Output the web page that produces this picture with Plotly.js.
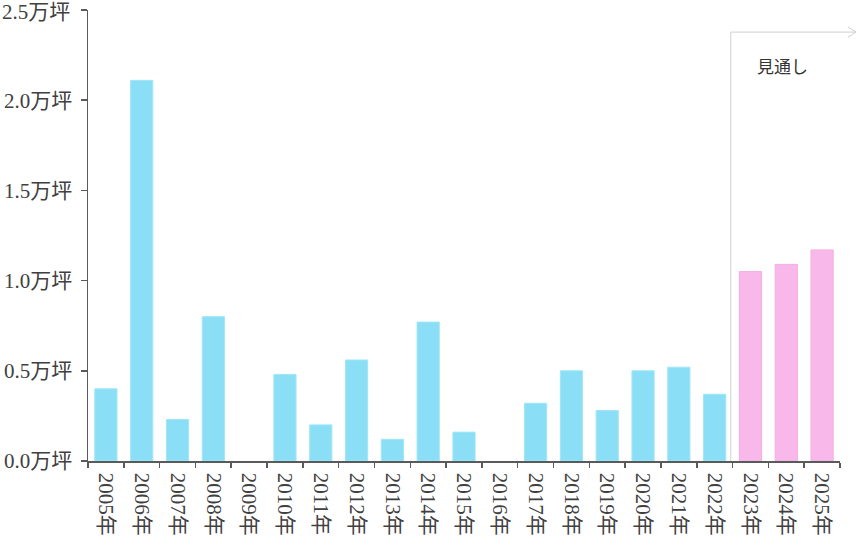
<!DOCTYPE html>
<html>
<head>
<meta charset="utf-8">
<script src="https://cdn.plot.ly/plotly-3.0.1.min.js"></script>
<style>html,body{margin:0;padding:0;background:#fff;}#chart{width:858px;height:538px;}</style>
</head>
<body>
<div id="chart"></div>
<script>
const years = ["2005年","2006年","2007年","2008年","2009年","2010年","2011年","2012年","2013年","2014年","2015年","2016年","2017年","2018年","2019年","2020年","2021年","2022年","2023年","2024年","2025年"];
const values = [0.40, 2.11, 0.23, 0.80, 0, 0.48, 0.20, 0.56, 0.12, 0.77, 0.16, 0, 0.32, 0.50, 0.28, 0.50, 0.52, 0.37, 1.05, 1.09, 1.17];
const forecastStart = "2023年";
const yTickVals = [0, 0.5, 1.0, 1.5, 2.0, 2.5];
const yTickText = ["0.0万坪","0.5万坪","1.0万坪","1.5万坪","2.0万坪","2.5万坪"];
const forecastLabel = "見通し";

const fIdx = years.indexOf(forecastStart);
const colors = years.map((y, i) => i >= fIdx ? "#f8b9ea" : "#8adff6");
const lineColors = years.map((y, i) => i >= fIdx ? "#f5aee3" : "#9fe6f8");
const lineWidths = values.map(v => v > 0 ? 1 : 0);

const trace = {
  type: "bar",
  x: years,
  y: values,
  marker: {color: colors, line: {color: lineColors, width: lineWidths}},
  hoverinfo: "x+y"
};

const tickFont = {family: "'Liberation Serif','Times New Roman','Noto Sans CJK JP',serif", size: 21, color: "#404040"};

const lineX = fIdx - 0.55;
const topIdx = yTickVals.length - 1;

const layout = {
  width: 858, height: 538,
  margin: {l: 88, r: 18, t: 10, b: 77},
  paper_bgcolor: "#fff", plot_bgcolor: "#fff",
  showlegend: false,
  bargap: 0.38,
  xaxis: {
    type: "category",
    tickangle: 90,
    showline: true, linecolor: "#5a5a5a", linewidth: 1.5,
    ticks: "outside", tickson: "boundaries", ticklen: 5, tickcolor: "#5a5a5a", tickwidth: 1.5,
    ticklabelstandoff: 6,
    tickfont: tickFont,
    showgrid: false, zeroline: false, automargin: false,
    range: [-0.5, years.length - 0.5]
  },
  yaxis: {
    range: [0, 2.5],
    tickvals: yTickVals,
    ticktext: yTickText.map((t, i) => i === topIdx ? "" : t),
    showline: true, linecolor: "#5a5a5a", linewidth: 1.5,
    ticks: "outside", ticklen: 6, tickcolor: "#5a5a5a", tickwidth: 1.5,
    ticklabelstandoff: 4,
    tickfont: tickFont,
    showgrid: false, zeroline: false, automargin: false
  },
  shapes: [
    {type: "line", xref: "x", yref: "paper", x0: lineX, x1: lineX, y0: 0, y1: 0.951, line: {color: "#d0d0d0", width: 1}},
    {type: "line", xref: "x", yref: "paper", x0: lineX, x1: years.length - 0.5, y0: 0.951, y1: 0.951, line: {color: "#d0d0d0", width: 1}},
    {type: "line", xref: "paper", yref: "paper", x0: 1.0, x1: 1.0213, y0: 0.951, y1: 0.951, line: {color: "#d0d0d0", width: 1}},
    {type: "path", xref: "paper", yref: "paper", path: "M1.0106,0.9623 L1.0213,0.951 L1.0106,0.9398", line: {color: "#d0d0d0", width: 1}}
  ],
  annotations: [
    {xref: "paper", yref: "paper", x: 0.924, y: 0.876, text: forecastLabel, showarrow: false,
     font: {family: "'Noto Sans CJK JP','Noto Sans',sans-serif", size: 17, color: "#333"}, xanchor: "center", yanchor: "middle"},
    {xref: "paper", yref: "y", x: 0, y: yTickVals[topIdx], xshift: -16, yshift: -2, text: yTickText[topIdx], showarrow: false,
     font: tickFont, xanchor: "right", yanchor: "middle"}
  ]
};

Plotly.newPlot("chart", [trace], layout, {displayModeBar: false, staticPlot: true});
</script>
</body>
</html>
